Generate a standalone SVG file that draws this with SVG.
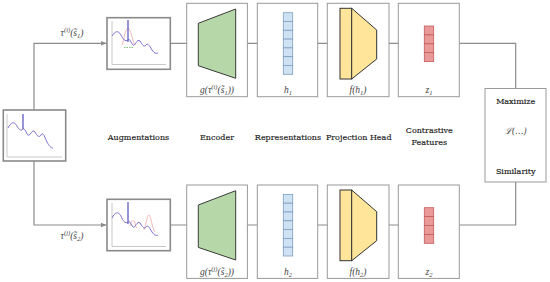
<svg xmlns="http://www.w3.org/2000/svg" width="550" height="282" viewBox="0 0 550 282">
<style>
.bg{fill:#fff}
.panel{fill:#fff;stroke:#9a9a9a;stroke-width:1}
.aug{fill:#fff;stroke:#8a8a8a;stroke-width:1.6}
.axis{fill:none;stroke:#c8c8c8;stroke-width:1}
.conn{fill:none;stroke:#8c8c8c;stroke-width:1.2}
.enc{fill:#b6d7a8;stroke:#3a3a3a;stroke-width:1}
.vec{fill:#cfe2f3;stroke:#7f9fc0;stroke-width:0.8}
.proj{fill:#ffe599;stroke:#333;stroke-width:1}
.feat{fill:#ea9999;stroke:#c45c5c;stroke-width:0.8}
.lbl{font-family:"DejaVu Serif","Liberation Serif",serif;font-size:8px;fill:#1a1a1a;stroke:#1a1a1a;stroke-width:0.15;text-anchor:middle}
.math{font-family:"Liberation Serif",serif;font-style:italic;font-size:9.5px;fill:#444;text-anchor:middle}
.spec{fill:none;stroke:#7b72d0;stroke-width:1}
.spike{fill:none;stroke:#6b68c8;stroke-width:1.4}
.pink{fill:none;stroke:#f2b0b0;stroke-width:0.9}
</style>
<defs>
<marker id="arr" viewBox="0 0 10 10" refX="9" refY="5" markerWidth="5" markerHeight="5" orient="auto">
<path d="M0,1 L10,5 L0,9 z" fill="#8c8c8c"/>
</marker>
</defs>
<rect class="bg" x="0" y="0" width="550" height="282"/>

<g id="connectors">
<path class="conn" d="M34,110 V43.3 H106" marker-end="url(#arr)"/>
<path class="conn" d="M34,161 V225 H106" marker-end="url(#arr)"/>
<path class="conn" d="M170,43.3 H515.7 V88.5"/>
<path class="conn" d="M170,225 H515.7 V182"/>
</g>

<g id="input">
<rect class="aug" x="3.3" y="110" width="62.4" height="51"/>
<path class="axis" d="M7,114 V157 H62"/>
<path class="spec" d="M8,128 C11,122 14,121 17,126 C19,130 21,131 23,129 C25,128 26,133 28,135 C30,137 32,128 35,132 C37,136 39,138 41,135 C43,131 45,138 47,142 C49,146 51,148 53,148"/>
<path class="spike" d="M23,129 V114"/>
</g>

<g id="aug1">
<rect class="aug" x="107" y="17.7" width="63.3" height="51.6"/>
<path class="axis" d="M112,21 V64.5 H166"/>
<path class="pink" d="M122,45 C124,40 125,29 128,28 C131,29 132,40 135,45"/>
<path class="spec" d="M112,36 C115,31 118,30 121,35 C123,39 125,42 128,40 C130,38 131,43 133,45 C135,47 137,38 140,41 C142,44 144,48 146,45 C148,42 150,47 152,50 C154,53 156,54 158,53"/>
<path class="spike" d="M128,42 V20"/>
<path d="M124,47.5 H133" stroke="#7fc27f" stroke-width="1" stroke-dasharray="1.5,1"/>
</g>

<g id="aug2">
<rect class="aug" x="107" y="199.3" width="63.3" height="51.4"/>
<path class="axis" d="M112,203 V246.5 H166"/>
<path class="pink" d="M130,226 C131,222 132,220 134,221 C136,223 135,227 137,228"/>
<path class="pink" d="M144,230 C146,225 147,215 149,215 C151,216 152,228 155,232"/>
<path class="spec" d="M112,218 C115,212 118,211 121,216 C123,221 125,224 128,222 C130,220 131,225 133,227 C135,229 137,220 140,223 C142,226 144,230 146,227 C148,224 150,229 152,232 C154,235 156,236 158,235" stroke="#9a6fbf"/>
<path class="spike" d="M128,224 V202"/>
</g>

<g id="encoder1">
<rect class="panel" x="186.7" y="3.3" width="60.7" height="93.4"/>
<polygon class="enc" points="198.3,23.3 235.7,9 235.7,78.3 198.3,65.7"/>
<text class="math" x="217" y="93">g(τ<tspan font-size="6.5" dy="-4">(i)</tspan><tspan dy="4">(s̃</tspan><tspan font-size="6.5" dy="2">1</tspan><tspan dy="-2">))</tspan></text>
</g>
<g id="encoder2">
<rect class="panel" x="186.7" y="185" width="60.7" height="93.4"/>
<polygon class="enc" points="198.3,205 235.7,190.7 235.7,260 198.3,247.4"/>
<text class="math" x="217" y="274.7">g(τ<tspan font-size="6.5" dy="-4">(j)</tspan><tspan dy="4">(s̃</tspan><tspan font-size="6.5" dy="2">2</tspan><tspan dy="-2">))</tspan></text>
</g>

<g id="rep1">
<rect class="panel" x="257.3" y="3.3" width="60.4" height="93.4"/>
<rect class="vec" x="283.3" y="12.7" width="9.4" height="8.8"/>
<rect class="vec" x="283.3" y="21.5" width="9.4" height="8.8"/>
<rect class="vec" x="283.3" y="30.3" width="9.4" height="8.8"/>
<rect class="vec" x="283.3" y="39.1" width="9.4" height="8.8"/>
<rect class="vec" x="283.3" y="47.9" width="9.4" height="8.8"/>
<rect class="vec" x="283.3" y="56.7" width="9.4" height="8.8"/>
<rect class="vec" x="283.3" y="65.5" width="9.4" height="8.8"/>
<text class="math" x="288" y="93">h<tspan font-size="6.5" dy="2">1</tspan></text>
</g>
<g id="rep2">
<rect class="panel" x="257.3" y="185" width="60.4" height="93.4"/>
<rect class="vec" x="283.3" y="194.4" width="9.4" height="8.8"/>
<rect class="vec" x="283.3" y="203.2" width="9.4" height="8.8"/>
<rect class="vec" x="283.3" y="212" width="9.4" height="8.8"/>
<rect class="vec" x="283.3" y="220.8" width="9.4" height="8.8"/>
<rect class="vec" x="283.3" y="229.6" width="9.4" height="8.8"/>
<rect class="vec" x="283.3" y="238.4" width="9.4" height="8.8"/>
<rect class="vec" x="283.3" y="247.2" width="9.4" height="8.8"/>
<text class="math" x="288" y="274.7">h<tspan font-size="6.5" dy="2">2</tspan></text>
</g>

<g id="proj1">
<rect class="panel" x="327.3" y="3.3" width="61.7" height="93.4"/>
<rect class="proj" x="340" y="8.3" width="11.7" height="70.7"/>
<polygon class="proj" points="351.7,8.3 376.7,30 376.7,59 351.7,79"/>
<text class="math" x="358" y="93">f(h<tspan font-size="6.5" dy="2">1</tspan><tspan dy="-2">)</tspan></text>
</g>
<g id="proj2">
<rect class="panel" x="327.3" y="185" width="61.7" height="93.4"/>
<rect class="proj" x="340" y="190" width="11.7" height="70.7"/>
<polygon class="proj" points="351.7,190 376.7,211.7 376.7,240.7 351.7,260.7"/>
<text class="math" x="358" y="274.7">f(h<tspan font-size="6.5" dy="2">2</tspan><tspan dy="-2">)</tspan></text>
</g>

<g id="feat1">
<rect class="panel" x="398.3" y="3.3" width="61" height="93.4"/>
<rect class="feat" x="424.3" y="26" width="9.4" height="8.9"/>
<rect class="feat" x="424.3" y="34.9" width="9.4" height="8.9"/>
<rect class="feat" x="424.3" y="43.8" width="9.4" height="8.9"/>
<rect class="feat" x="424.3" y="52.7" width="9.4" height="8.9"/>
<text class="math" x="429" y="93">z<tspan font-size="6.5" dy="2">1</tspan></text>
</g>
<g id="feat2">
<rect class="panel" x="398.3" y="185" width="61" height="93.4"/>
<rect class="feat" x="424.3" y="207.7" width="9.4" height="8.9"/>
<rect class="feat" x="424.3" y="216.6" width="9.4" height="8.9"/>
<rect class="feat" x="424.3" y="225.5" width="9.4" height="8.9"/>
<rect class="feat" x="424.3" y="234.4" width="9.4" height="8.9"/>
<text class="math" x="429" y="274.7">z<tspan font-size="6.5" dy="2">2</tspan></text>
</g>

<g id="similarity">
<rect class="panel" x="485" y="88.5" width="61" height="93.5"/>
<text class="lbl" x="515.7" y="103.5">Maximize</text>
<text class="math" x="515.7" y="134" style="font-family:'DejaVu Serif',serif;font-size:8.5px">ℒ(…)</text>
<text class="lbl" x="515.7" y="174">Similarity</text>
</g>

<g id="labels">
<text class="math" x="72" y="36">τ<tspan font-size="6.5" dy="-4">(i)</tspan><tspan dy="4">(s̃</tspan><tspan font-size="6.5" dy="2">1</tspan><tspan dy="-2">)</tspan></text>
<text class="math" x="72" y="239">τ<tspan font-size="6.5" dy="-4">(j)</tspan><tspan dy="4">(s̃</tspan><tspan font-size="6.5" dy="2">2</tspan><tspan dy="-2">)</tspan></text>
<text class="lbl" x="138.5" y="140">Augmentations</text>
<text class="lbl" x="217" y="140">Encoder</text>
<text class="lbl" x="288" y="140">Representations</text>
<text class="lbl" x="358.7" y="140">Projection Head</text>
<text class="lbl" x="429.3" y="133">Contrastive</text>
<text class="lbl" x="429.3" y="145">Features</text>
</g>
</svg>
